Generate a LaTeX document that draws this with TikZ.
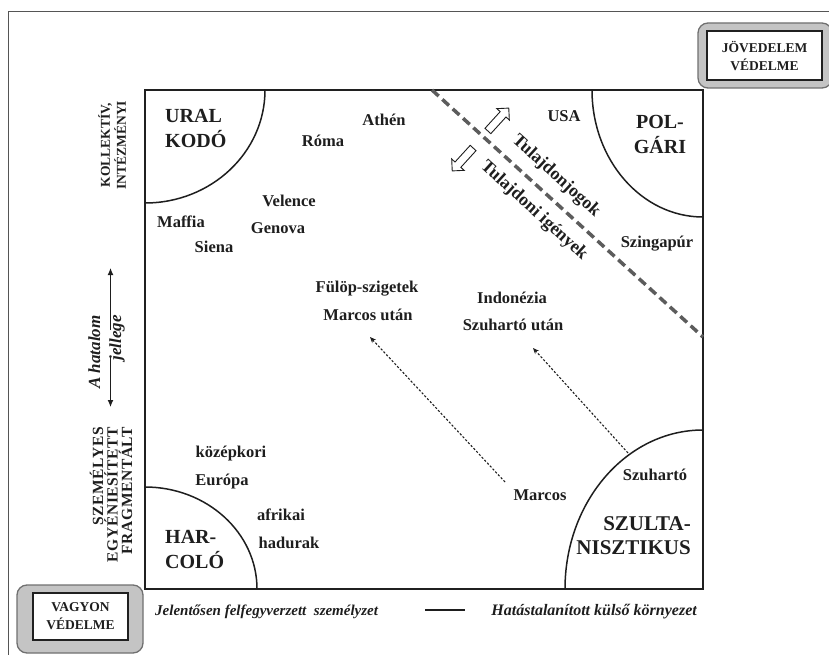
\documentclass[tikz,border=0pt]{standalone}
\usepackage{fontspec}
\setmainfont{Liberation Serif}
\usetikzlibrary{arrows.meta,shapes.arrows}
\definecolor{ink}{HTML}{1e1e1e}
\definecolor{boxline}{HTML}{202020}
\definecolor{dashgray}{HTML}{5c5c5c}
\definecolor{bandgray}{HTML}{c4c4c4}
\definecolor{bandline}{HTML}{707070}
\definecolor{framegray}{HTML}{555555}
\begin{document}
\begin{tikzpicture}[x=1pt,y=1pt,
  place/.style={font=\fontsize{16.5}{16.5}\selectfont\bfseries, text=ink, anchor=base, inner sep=0pt},
  regime/.style={font=\fontsize{20}{25}\selectfont\bfseries, text=ink, inner sep=0pt},
  sidecap/.style={font=\fontsize{13.5}{16}\selectfont\bfseries, text=ink, inner sep=0pt, rotate=90},
  sideital/.style={font=\fontsize{17}{17}\selectfont\bfseries\itshape, text=ink, inner sep=0pt, rotate=90, anchor=base},
  capital/.style={font=\fontsize{15}{15}\selectfont\bfseries\itshape, text=ink, inner sep=0pt},
  band/.style={draw=bandline, line width=1.3pt, fill=bandgray, rounded corners=10pt},
  inbox/.style={draw=boxline, line width=1.5pt, fill=white, align=center, inner sep=0pt,
     font=\fontsize{13.5}{18}\selectfont\bfseries, text=ink},
  propline/.style={font=\fontsize{18}{18}\selectfont\bfseries, text=ink, inner sep=0pt, rotate=-42.35},
  hollow/.style={single arrow, draw=ink, line width=0.9pt, fill=white, inner sep=3.5pt,
     minimum height=31pt, single arrow head extend=4.5pt},
  shiftarrow/.style={ink, line width=1.1pt, dash pattern=on 2.2pt off 1.8pt, -{Stealth[length=6pt,width=5pt]}},
  dirarrow/.style={ink, line width=1.1pt, -{Latex[length=7pt,width=6pt]}}
]
\useasboundingbox (0,0) rectangle (829,-655);

% outer frame fragments
\coordinate (f1) at (8,-655);
\coordinate (f2) at (8,-11);
\coordinate (f3) at (829,-11);
\draw[framegray, line width=0.9pt] (f1) -- (f2) -- (f3);

% main box
\draw[boxline, line width=2pt] (145,-90) rectangle (703,-589);

% corner arcs
\draw[ink, line width=1.5pt] (145,-203) arc[start angle=270, end angle=360, x radius=120, y radius=113];
\draw[ink, line width=1.5pt] (592,-90) arc[start angle=180, end angle=270, x radius=111, y radius=127];
\draw[ink, line width=1.5pt] (257,-589) arc[start angle=0, end angle=90, x radius=112, y radius=102];
\draw[ink, line width=1.5pt] (703,-430) arc[start angle=90, end angle=180, x radius=138, y radius=159];

% regime labels
\node[regime, anchor=north west, align=left] (ural) at (165,-109) {URAL\\KODÓ};
\node[regime, anchor=north, align=center] (polg) at (660,-115) {POL-\\GÁRI};
\node[regime, anchor=north west, align=left] (harc) at (165,-530) {HAR-\\COLÓ};
\node[regime, anchor=north east, align=right, font=\fontsize{21}{24}\selectfont\bfseries] (szult) at (691,-516) {SZULTA-\\NISZTIKUS};

% places
\node[place] (athen) at (384,-126) {Athén};
\node[place] (roma) at (323,-147) {Róma};
\node[place] (velence) at (289,-206) {Velence};
\node[place] (genova) at (278,-233) {Genova};
\node[place] (maffia) at (181,-227) {Maffia};
\node[place] (siena) at (214,-252) {Siena};
\node[place] (usa) at (564,-122) {USA};
\node[place] (szinga) at (657,-247) {Szingapúr};
\node[place] (fulop) at (367,-292) {Fülöp-szigetek};
\node[place] (marcu) at (368,-320) {Marcos után};
\node[place] (indon) at (512,-303) {Indonézia};
\node[place] (szuhu) at (513,-330) {Szuhartó után};
\node[place] (kozep) at (231,-457) {középkori};
\node[place] (europa) at (222,-485) {Európa};
\node[place] (afrik) at (281,-520) {afrikai};
\node[place] (hadur) at (289,-548) {hadurak};
\node[place] (marcos) at (540,-500) {Marcos};
\node[place] (szuh) at (655,-480) {Szuhartó};

% property dividing line
\coordinate (d1) at (432,-90);
\coordinate (d2) at (703,-337);
\draw[dashgray, line width=3.5pt, dash pattern=on 9pt off 5pt] (d1) -- (d2);
\node[propline] (jogok) at (556,-176) {Tulajdonjogok};
\node[propline] (igeny) at (534,-211) {Tulajdoni igények};
\node[hollow, rotate=47.65] (upar) at (497,-121) {};
\node[hollow, rotate=227.65] (dnar) at (464,-158) {};

% transition arrows
\coordinate (m1) at (505,-482);
\coordinate (m2) at (370,-337);
\coordinate (s1) at (628,-453);
\coordinate (s2) at (533,-348);
\draw[shiftarrow] (m1) -- (m2);
\draw[shiftarrow] (s1) -- (s2);

% left side labels
\node[sidecap, align=center] (koll) at (112,-145) {KOLLEKTÍV,\\INTÉZMÉNYI};
\node[sidecap, align=right, anchor=east, font=\fontsize{15.5}{12.8}\selectfont\bfseries\addfontfeature{LetterSpace=4}] (szem) at (111,-427) {SZEMÉLYES\\EGYÉNIESÍTETT\\FRAGMENTÁLT};
\node[sideital] (hatalom) at (100,-352) {A hatalom};
\node[sideital] (jellege) at (121,-338) {jellege};
\coordinate (a1) at (110.5,-357);
\coordinate (a2) at (110.5,-407);
\coordinate (a3) at (110.5,-330);
\coordinate (a4) at (110.5,-268);
\draw[dirarrow] (a1) -- (a2);
\draw[dirarrow] (a3) -- (a4);

% protection boxes
\node[band, minimum width=134pt, minimum height=65pt] (jovb) at (765,-55.5) {};
\node[inbox, minimum width=115pt, minimum height=49pt] (jov) at (764.5,-55.5) {JÖVEDELEM\\VÉDELME};
\node[band, minimum width=126pt, minimum height=68pt] (vagb) at (80,-619) {};
\node[inbox, minimum width=95pt, minimum height=47pt] (vag) at (80.5,-616.5) {VAGYON\\VÉDELME};

% caption
\node[capital, anchor=base west] (cap1) at (155,-615) {Jelentősen felfegyverzett\ \ személyzet};
\node[capital, anchor=base east, font=\fontsize{16}{16}\selectfont\bfseries\itshape] (cap2) at (697,-615) {Hatástalanított külső környezet};
\coordinate (c1) at (425,-610);
\coordinate (c2) at (465,-610);
\draw[ink, line width=1.2pt] (c1) -- (c2);
\end{tikzpicture}
\end{document}
